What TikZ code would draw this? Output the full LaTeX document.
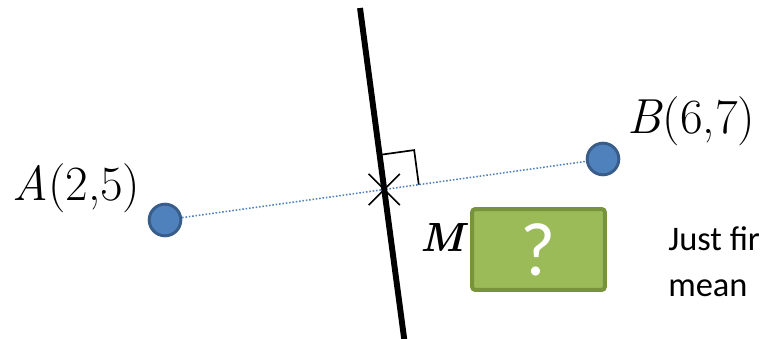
\documentclass[tikz,border=0pt]{standalone}
\usepackage{amsmath,amssymb}
\usepackage{fontspec}
\newfontfamily\calibrifont{Carlito}
\usetikzlibrary{calc,positioning,shapes.misc}
\definecolor{ptblue}{HTML}{4F81BD}
\definecolor{ptblueline}{HTML}{385D8A}
\definecolor{boxgreen}{HTML}{9BBB59}
\definecolor{boxgreenline}{HTML}{77933C}

\begin{document}
\begin{tikzpicture}[x=0.025cm,y=-0.025cm]
\tikzset{
  pointnode/.style={circle,draw=ptblueline,fill=ptblue,line width=2.1pt,minimum size=22.5pt,inner sep=0pt},
  coordlabel/.style={inner sep=0pt,font=\fontsize{35}{40}\selectfont},
  mlabel/.style={inner sep=0pt,font=\fontsize{29}{32}\selectfont\bfseries\itshape},
  dottedline/.style={ptblue,line width=1.1pt,dash pattern=on 1.1pt off 1.3pt},
  bisector/.style={line width=4.2pt},
  thinmark/.style={line width=1.2pt},
  crossmark/.style={draw,cross out,thinmark,minimum size=21pt,inner sep=0pt},
  answerbox/.style={rectangle,rounded corners=2pt,draw=boxgreenline,fill=boxgreen,line width=2.8pt,minimum width=94.3pt,minimum height=57.4pt,inner sep=0pt,text=white,font=\calibrifont\fontsize{54}{54}\selectfont},
  sidetext/.style={inner sep=0pt,align=left,font=\calibrifont\fontsize{24.5}{33}\selectfont}
}
\useasboundingbox (0,0) rectangle (761,339);
\node[pointnode] (n_A) at (165,220) {};
\node[pointnode] (n_B) at (603,159) {};
\coordinate (c_top) at (360,8);
\coordinate (c_bot) at (405,345);
\coordinate (c_X) at (intersection of n_A--n_B and c_top--c_bot);
\draw[dottedline] (n_A) -- (n_B);
\draw[bisector] (c_top) -- (c_bot);
\node[crossmark] (n_X) at (c_X) {};
\coordinate (c_r1) at ($(c_X)!24.8pt!(c_top)$);
\coordinate (c_r2) at ($(c_X)!24.8pt!(n_B)$);
\draw[thinmark] (c_r1) -- ($(c_r1)+(c_r2)-(c_X)$) -- (c_r2);
\node[coordlabel,anchor=base west] (n_labA) at (12,201) {\textit{A}(2,5)};
\node[coordlabel,anchor=base west] (n_labB) at (627,134) {\textit{B}(6,7)};
\node[answerbox] (n_box) at (538.5,249.5) {?};
\node[mlabel,anchor=base east] (n_M) at (465,252) {M};
\node[sidetext,anchor=north west] (n_note) at (668,226) {Just fir\\mean};
\end{tikzpicture}
\end{document}
